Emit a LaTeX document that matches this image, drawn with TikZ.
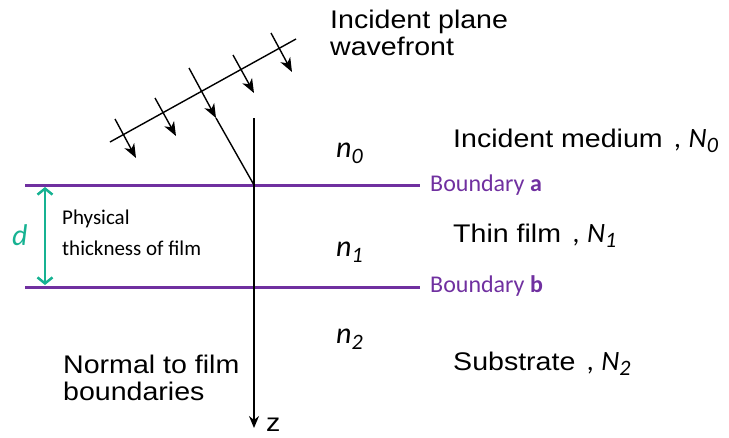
\documentclass[tikz,border=0pt]{standalone}
\usepackage{fontspec}
\setmainfont{Liberation Sans}[FakeStretch=1.12]
\newfontfamily\calib{Carlito}
\usetikzlibrary{arrows.meta}
\definecolor{bpurple}{RGB}{112,48,160}
\definecolor{dteal}{RGB}{22,178,146}
\newcommand{\nsym}[1]{{\calib\itshape\fontsize{30}{30}\selectfont n\raisebox{-6pt}{\fontsize{22}{22}\selectfont #1}}}
\newcommand{\Nlab}[1]{{\calib\itshape\fontsize{28}{28}\selectfont\hspace{12pt},\hspace{7pt}N\raisebox{-5pt}{\fontsize{22}{22}\selectfont #1}}}
\begin{document}
\begin{tikzpicture}[x=1pt,y=-1pt,
  arial/.style={font=\fontsize{25.5}{27}\selectfont, inner sep=0pt},
  ray/.style={line width=1.4pt, black},
  rayarrow/.style={ray, -{Stealth[length=14pt,width=11pt,inset=4pt]}},
  bline/.style={line width=3pt, bpurple},
  blabel/.style={font=\calib\fontsize{24}{26}\selectfont, text=bpurple, inner sep=0pt, anchor=base west},
  nlabel/.style={inner sep=0pt, anchor=base west},
  ]
\useasboundingbox (0,0) rectangle (729,437);
% boundaries
\draw[bline] (25,185) coordinate (a1) -- (420,185) coordinate (a2);
\draw[bline] (25,287) coordinate (b1) -- (420,287) coordinate (b2);
\node[blabel] (ba) at (430,191) {Boundary \textbf{a}};
\node[blabel] (bb) at (430,292) {Boundary \textbf{b}};
% wavefront
\draw[ray] (110,142) coordinate (wf1) -- (296,39) coordinate (wf2);
\draw[rayarrow] (115,119) -- (136,158);
\draw[rayarrow] (155,98) -- (176,136);
\draw[rayarrow] (233,55) -- (254,93);
\draw[rayarrow] (271,33) -- (292,72);
\coordinate (O) at (254,185);
\coordinate (rm) at (216,118);
\draw[rayarrow] (189,68) -- (rm);
\draw[ray] (rm) -- (O);
% normal
\draw[ray, -{Stealth[length=12pt,width=10pt,inset=4pt]}] (254,118) coordinate (ntop) -- (254,428) coordinate (nbot);
\node[arial, anchor=base west] (z) at (266,431) {z};
% thickness
\draw[dteal, line width=2.5pt, {Straight Barb[length=6pt,width=15pt]}-{Straight Barb[length=6pt,width=15pt]}] (45,187) coordinate (d1) -- (45,285) coordinate (d2);
\node[font=\calib\itshape\fontsize{30}{32}\selectfont, text=dteal, anchor=base west, inner sep=0pt] (d) at (12,245) {d};
\node[font=\calib\fontsize{21}{31}\selectfont, align=left, anchor=north west, inner sep=0pt] (phys) at (62,209.5) {Physical\\thickness of film};
% labels
\node[arial, anchor=north west, align=left] (wf) at (330,9.7) {Incident plane\\wavefront};
\node[arial, anchor=base west] (m0) at (453,147) {Incident medium\Nlab{0}};
\node[arial, anchor=base west] (m1) at (453,242) {Thin film\Nlab{1}};
\node[arial, anchor=base west] (m2) at (453,370) {Substrate\Nlab{2}};
\node[nlabel] (n0) at (336,157) {\nsym{0}};
\node[nlabel] (n1) at (336,256) {\nsym{1}};
\node[nlabel] (n2) at (336,343) {\nsym{2}};
\node[arial, anchor=north west, align=left] (nt) at (63,354.5) {Normal to film\\boundaries};
\end{tikzpicture}
\end{document}
